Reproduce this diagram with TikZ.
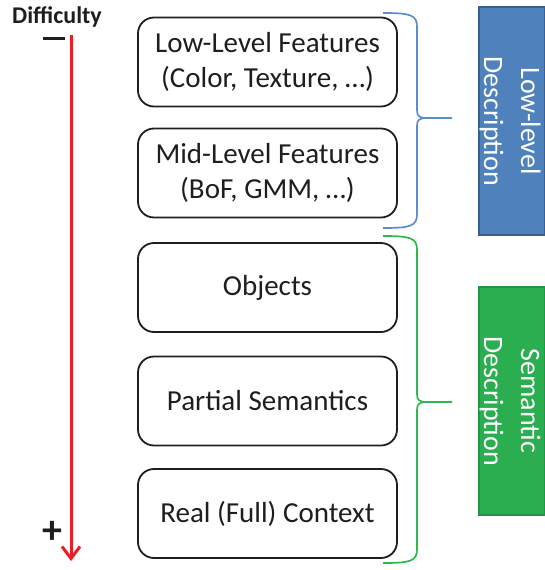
\documentclass[tikz,border=0pt]{standalone}
\usepackage{fontspec}
\setmainfont{Carlito}
\usetikzlibrary{arrows.meta}
\definecolor{lowblue}{HTML}{4F81BD}
\definecolor{lowblueedge}{HTML}{3A5F8E}
\definecolor{semgreen}{HTML}{2BAE4F}
\definecolor{semgreenedge}{HTML}{26934A}
\definecolor{bracegreen}{HTML}{2DB84F}
\definecolor{braceblue}{HTML}{5A8ED0}
\definecolor{arrowred}{HTML}{EE1C25}
\definecolor{inkdark}{HTML}{1E1E1E}
\begin{document}
\begin{tikzpicture}[x=1pt,y=-1pt,
  levelbox/.style={draw=inkdark, line width=1.8pt, rounded corners=16pt,
    minimum width=259pt, minimum height=89pt, align=center,
    font=\fontsize{29}{35}\selectfont, text=inkdark, inner sep=0pt},
  sidebox/.style={rotate=-90, minimum width=228pt, minimum height=66pt,
    line width=1.2pt, inner sep=0pt},
  sidetext/.style={rotate=-90, align=center, text=white,
    font=\fontsize{28}{37}\selectfont, inner sep=0pt},
  bracestyle/.style={line width=1.7pt},
]
\useasboundingbox (0,0) rectangle (544,570);

% difficulty axis
\node[font=\bfseries\fontsize{24}{26}\selectfont, text=inkdark] (difficulty) at (57,17) {Difficulty};
\node[inner sep=0pt] (minus) at (54,38) {\color{inkdark}\rule{22pt}{3pt}};
\node[font=\bfseries\fontsize{40}{44}\selectfont, text=inkdark, inner sep=0pt] (plus) at (52,532) {+};
\coordinate (axtop) at (71,35);
\coordinate (axbot) at (71,561);
\draw[arrowred, line width=3pt, -{Straight Barb[length=12pt,width=18pt]}] (axtop) -- (axbot);

% level boxes
\node[levelbox] (low) at (267.5,62) {Low-Level Features\\(Color, Texture, …)};
\node[levelbox] (mid) at (267.5,173) {Mid-Level Features\\(BoF, GMM, …)};
\node[levelbox] (obj) at (267.5,287.5) {Objects};
\node[levelbox] (part) at (267.5,401) {Partial Semantics};
\node[levelbox] (real) at (267.5,513.5) {Real (Full) Context};

% braces
\draw[bracestyle, braceblue]
  (383,13) .. controls (411,13) and (417,15) .. (417,27) -- (417,110)
  .. controls (417,116) and (419,118) .. (427,118) -- (452,118)
  (427,118) .. controls (419,118) and (417,120) .. (417,126) -- (417,214)
  .. controls (417,226) and (411,228) .. (383,228);
\draw[bracestyle, bracegreen]
  (383,236) .. controls (411,236) and (417,238) .. (417,250) -- (417,394)
  .. controls (417,400) and (419,402) .. (427,402) -- (452,402)
  (427,402) .. controls (419,402) and (417,404) .. (417,410) -- (417,549)
  .. controls (417,561) and (411,563) .. (383,563);

% side boxes
\node[sidebox, fill=lowblue, draw=lowblueedge] (lowbox) at (512,121) {};
\node[sidetext] (lowtext) at (510,121) {Low-level\\Description};
\node[sidebox, fill=semgreen, draw=semgreenedge] (sembox) at (512,401) {};
\node[sidetext] (semtext) at (510,401) {Semantic\\Description};
\end{tikzpicture}
\end{document}
